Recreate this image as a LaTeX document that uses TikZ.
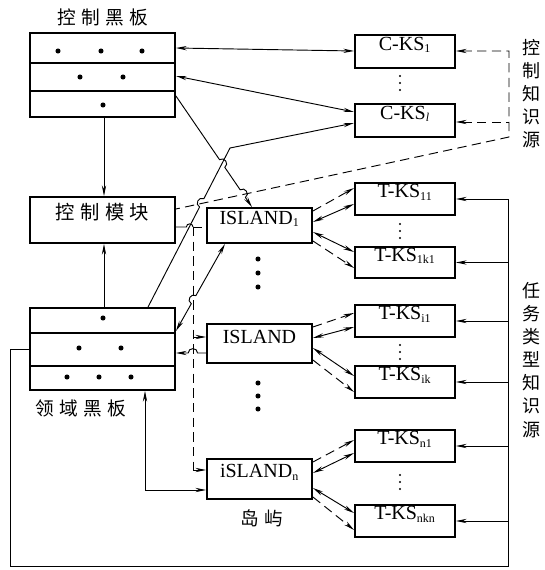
\documentclass[tikz,border=0pt]{standalone}
\usepackage{fontspec}
\setmainfont{Liberation Serif}
\newfontfamily\cjk{Noto Sans CJK SC}
\usetikzlibrary{arrows.meta,calc,fit}
\newcommand\subsm[1]{\textsubscript{\fontsize{9}{10}\selectfont #1}}
\begin{document}
\begin{tikzpicture}[x=0.75pt,y=-0.75pt,
  >={Stealth[length=8pt,width=3.2pt]},
  box/.style={draw, line width=1.4pt, inner sep=0pt, font=\fontsize{15}{17}\selectfont},
  conn/.style={line width=0.7pt},
  dsh/.style={dash pattern=on 7pt off 4pt},
  cjklab/.style={font=\cjk\fontsize{14}{16}\selectfont, inner sep=0pt},
  vlab/.style={font=\cjk\fontsize{13.5}{17.3}\selectfont, align=center, inner sep=0pt},
  hop/.style={bend left=90, looseness=1.6}]
\useasboundingbox (0,0) rectangle (544,570);

% ---------- boxes ----------
\node[box, fit={(30,33)(175,117)}] (cb) {};
\node[box, fit={(30,197)(175,243)}, font=\cjk\fontsize{14.5}{16}\selectfont] (cm) {控\hspace{4pt}制\hspace{4pt}模\hspace{4pt}块};
\node[box, fit={(30,308)(175,390)}] (db) {};

\node[box, fit={(355,35)(455,68)}] (ck1) {C-KS\subsm{1}};
\node[box, fit={(355,104)(455,137)}] (ckl) {C-KS\subsm{\textit{l}}};

\node[box, fit={(355,183)(455,215)}] (tk11) {T-KS\subsm{11}};
\node[box, fit={(355,247)(455,278)}] (tk1k) {T-KS\subsm{1k1}};
\node[box, fit={(355,305)(455,337)}] (tki1) {T-KS\subsm{i1}};
\node[box, fit={(355,366)(455,398)}] (tkik) {T-KS\subsm{ik}};
\node[box, fit={(355,430)(455,462)}] (tkn1) {T-KS\subsm{n1}};
\node[box, fit={(355,505)(455,537)}] (tknk) {T-KS\subsm{nkn}};

\node[box, fit={(207,208)(312,243)}] (isl1) {ISLAND\subsm{1}};
\node[box, fit={(207,324)(312,363)}] (isli) {ISLAND};
\node[box, fit={(207,459)(312,499)}] (isln) {iSLAND\subsm{n}};

% blackboard dividers
\draw[line width=1.4pt] (cb.west |- 0,63) -- (cb.east |- 0,63);
\draw[line width=1.4pt] (cb.west |- 0,91) -- (cb.east |- 0,91);
\draw[line width=1.4pt] (db.west |- 0,333) -- (db.east |- 0,333);
\draw[line width=1.4pt] (db.west |- 0,366) -- (db.east |- 0,366);

% ---------- labels ----------
\node[cjklab] (cbt) at (103,17) {控\hspace{4pt}制\hspace{4pt}黑\hspace{4pt}板};
\node[cjklab] (dbt) at (81,408) {领\hspace{4pt}域\hspace{4pt}黑\hspace{4pt}板};
\node[cjklab] (islt) at (262,518) {岛\hspace{4pt}屿};
\node[vlab] (cksl) at (531,94) {控\\制\\知\\识\\源};
\node[vlab] (tksl) at (531,360) {任\\务\\类\\型\\知\\识\\源};

% ---------- dots ----------
\foreach \p in {(58,51),(101,51),(142,51),(80,77),(123,77),(103,105),
                (103,318),(79,348),(121,348),(67,377),(99,377),(131,377)}
  \fill \p circle[radius=1.9pt];
\foreach \yy in {259,273,287,383,396,409}
  \fill (258,\yy) circle[radius=1.9pt];
\foreach \yy in {76,83,90,224,231,238,345,352,359,475,482,489}
  \fill (400,\yy) circle[radius=0.8pt];

% ---------- coordinates ----------
\coordinate (brt) at (509,51);
\coordinate (brl) at (509,122);
\coordinate (brb) at (509,137);
\coordinate (dend) at (cm.east |- 0,209);
\coordinate (a3) at (db.north -| 148,0);
\coordinate (k3) at (230,148);
\coordinate (a4) at (cb.east |- 0,96);
\coordinate (b4) at (isl1.north -| 252,0);
\coordinate (bt) at (193,227);
\coordinate (bm) at (193,337);
\coordinate (bb) at (193,470);
\coordinate (a5) at (db.east |- 0,331);
\coordinate (b5) at (isl1.south -| 225,0);
\coordinate (a6) at (db.east |- 0,353);
\coordinate (b6) at (isli.west |- 0,353);
\coordinate (cmo) at (cm.east |- bt);

% crossing points
\coordinate (x3) at ($(a3)!0.655!(k3)$);
\coordinate (x4a) at ($(a4)!0.6076!(b4)$);
\coordinate (x4b) at ($(a4)!0.879!(b4)$);
\coordinate (x5) at ($(a5)!0.36!(b5)$);
\coordinate (x6) at ($(a6)!0.5625!(b6)$);
\coordinate (xc) at ($(cmo)!0.806!(bt)$);

% ---------- connectors ----------
\draw[conn,->] (cb.south -| 104,0) -- (cm.north -| 104,0);
\draw[conn,->] (db.north -| 104,0) -- (cm.south -| 104,0);

\draw[conn,<->] (cb.east |- 0,48) -- (ck1.west |- 0,51);
\draw[conn,<->] (cb.east |- 0,76) -- (ckl.west |- 0,112);

\draw[conn,->] (a3) -- ($(x3)!3.5pt!(a3)$) to[hop] ($(x3)!3.5pt!(k3)$) -- (k3) -- (ckl.west |- 0,123);

\draw[conn,->] (a4) -- ($(x4a)!3.5pt!(a4)$) to[hop] ($(x4a)!3.5pt!(b4)$)
  -- ($(x4b)!3.5pt!(a4)$) to[hop] ($(x4b)!3.5pt!(b4)$) -- (b4);

\draw[conn,dsh,<-] (ck1.east |- brt) -- (brt) -- (brb) -- (dend);
\draw[conn,dsh,<-] (ckl.east |- brl) -- (brl);

\draw[conn] (cmo) -- ($(xc)!2.5pt!(cmo)$) to[hop] ($(xc)!2.5pt!(bt)$) -- (bt);
\draw[conn,dsh] (bt) -- (bb);
\draw[conn,dsh] (bt) -- (isl1.west |- bt);
\draw[conn,->] (bm) -- (isli.west |- bm);
\draw[conn,->] (bb) -- (isln.west |- bb);

\draw[conn,<->] (a5) -- ($(x5)!3.5pt!(a5)$) to[hop] ($(x5)!3.5pt!(b5)$) -- (b5);
\draw[conn,<-] (a6) -- ($(x6)!3.5pt!(a6)$) to[hop] ($(x6)!3.5pt!(b6)$) -- (b6);
\draw[conn,<->] (db.south -| 145,0) |- (isln.west |- 0,490);

\draw[conn] (db.west |- 0,349) -- (10,349) -- (10,566) -- (508,566) -- (tk11.east -| 508,0);
\foreach \t in {tk11,tk1k,tki1,tkik,tkn1,tknk}
  \draw[conn,->] (\t.east -| 508,0) -- (\t.east);

\draw[conn,dsh,->] (isl1.east |- 0,211) -- (tk11.west |- 0,188);
\draw[conn,<->] (isl1.east |- 0,222) -- (tk11.west |- 0,204);
\draw[conn,<->] (isl1.east |- 0,232) -- (tk1k.west |- 0,252);
\draw[conn,dsh,->] (isl1.east |- 0,241) -- (tk1k.west |- 0,268);

\draw[conn,dsh,->] (isli.east |- 0,327) -- (tki1.west |- 0,313);
\draw[conn,<->] (isli.east |- 0,338) -- (tki1.west |- 0,327);
\draw[conn,<->] (isli.east |- 0,348) -- (tkik.west |- 0,376);
\draw[conn,dsh,->] (isli.east |- 0,360) -- (tkik.west |- 0,392);

\draw[conn,dsh,->] (isln.east |- 0,462) -- (tkn1.west |- 0,440);
\draw[conn,<->] (isln.east |- 0,473) -- (tkn1.west |- 0,453);
\draw[conn,<->] (isln.east |- 0,488) -- (tknk.west |- 0,513);
\draw[conn,dsh,->] (isln.east |- 0,497) -- (tknk.west |- 0,530);
\end{tikzpicture}
\end{document}
